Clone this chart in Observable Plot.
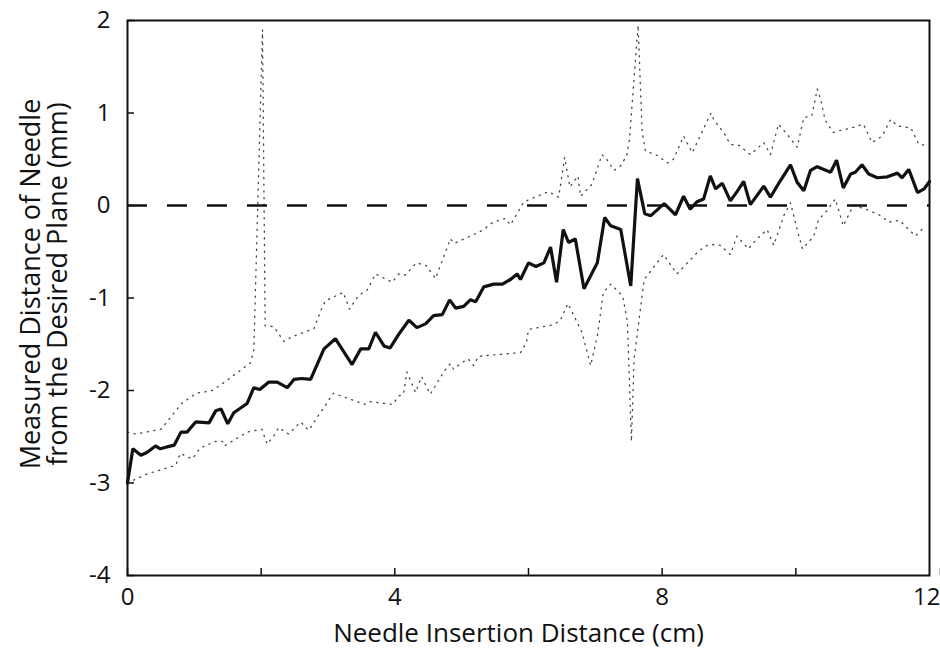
<!DOCTYPE html>
<html>
<head>
<meta charset="utf-8">
<script src="https://cdn.jsdelivr.net/npm/d3@7"></script>
<script src="https://cdn.jsdelivr.net/npm/@observablehq/plot@0.6"></script>
<style>
  html, body { margin: 0; padding: 0; background: #fff; }
  #chart { width: 940px; height: 651px; }
  svg { font-family: "Open Sans", "Noto Sans", sans-serif; }
</style>
</head>
<body>
<div id="chart"></div>
<script>
// Mean needle deviation (thick solid line)
const meanX = [0, 0.08, 0.2, 0.29, 0.42, 0.49, 0.59, 0.7, 0.8, 0.89,
  1.02, 1.22, 1.32, 1.4, 1.5, 1.59, 1.79, 1.89, 1.98, 2.11,
  2.24, 2.39, 2.49, 2.61, 2.74, 2.94, 3.11, 3.36, 3.49, 3.61,
  3.71, 3.84, 3.93, 4.06, 4.21, 4.33, 4.46, 4.58, 4.71, 4.82,
  4.91, 5.03, 5.13, 5.21, 5.33, 5.48, 5.61, 5.73, 5.83, 5.88,
  6.0, 6.11, 6.23, 6.33, 6.42, 6.52, 6.6, 6.7, 6.83, 7.03,
  7.14, 7.23, 7.38, 7.53, 7.63, 7.74, 7.83, 8.03, 8.2, 8.32,
  8.42, 8.52, 8.62, 8.72, 8.8, 8.9, 9.02, 9.12, 9.22, 9.32,
  9.52, 9.62, 9.77, 9.92, 10.02, 10.12, 10.22, 10.32, 10.52, 10.61,
  10.71, 10.82, 10.89, 10.99, 11.09, 11.22, 11.37, 11.52, 11.59, 11.69,
  11.82, 11.92, 12.0];
const meanY = [-3.0, -2.63, -2.70, -2.67, -2.60, -2.63, -2.61, -2.59, -2.45, -2.45,
  -2.34, -2.35, -2.22, -2.20, -2.36, -2.24, -2.14, -1.97, -1.99, -1.91,
  -1.91, -1.97, -1.88, -1.87, -1.88, -1.55, -1.44, -1.72, -1.55, -1.55,
  -1.37, -1.52, -1.54, -1.39, -1.24, -1.32, -1.28, -1.19, -1.18, -1.02,
  -1.11, -1.09, -1.02, -1.04, -0.88, -0.85, -0.85, -0.80, -0.74, -0.80,
  -0.62, -0.66, -0.62, -0.45, -0.83, -0.26, -0.40, -0.36, -0.90, -0.62,
  -0.13, -0.22, -0.26, -0.87, 0.29, -0.09, -0.11, 0.02, -0.10, 0.10,
  -0.04, 0.04, 0.07, 0.32, 0.18, 0.24, 0.05, 0.15, 0.26, 0.01,
  0.21, 0.09, 0.27, 0.44, 0.25, 0.16, 0.38, 0.42, 0.36, 0.49,
  0.19, 0.34, 0.36, 0.44, 0.34, 0.30, 0.31, 0.35, 0.30, 0.39,
  0.14, 0.18, 0.26];

// Upper bound (dotted)
const upperX = [0, 0.12, 0.5, 0.81, 1.03, 1.27, 1.47, 1.84, 1.89, 2.02,
  2.06, 2.19, 2.34, 2.46, 2.79, 2.89, 2.96, 3.23, 3.32, 3.45,
  3.59, 3.71, 3.96, 4.06, 4.16, 4.32, 4.47, 4.61, 4.83, 4.89,
  5.31, 5.47, 5.66, 5.73, 5.93, 6.3, 6.45, 6.49, 6.54, 6.62,
  6.74, 6.78, 6.95, 7.1, 7.17, 7.28, 7.38, 7.47, 7.51, 7.64,
  7.7, 7.75, 7.93, 8.08, 8.17, 8.32, 8.45, 8.73, 8.77, 8.92,
  9.02, 9.15, 9.32, 9.52, 9.62, 9.74, 9.87, 10.02, 10.12, 10.24,
  10.32, 10.37, 10.44, 10.56, 10.71, 10.84, 11.01, 11.14, 11.29, 11.42,
  11.52, 11.72, 11.84, 11.97];
const upperY = [-2.45, -2.47, -2.42, -2.14, -2.03, -2.0, -1.9, -1.7, -1.57, 1.9,
  -1.3, -1.31, -1.47, -1.42, -1.33, -1.14, -1.03, -0.94, -1.12, -0.98,
  -0.91, -0.74, -0.83, -0.74, -0.75, -0.62, -0.65, -0.79, -0.36, -0.41,
  -0.27, -0.18, -0.14, -0.21, 0.04, 0.15, 0.09, 0.27, 0.52, 0.2,
  0.32, 0.1, 0.23, 0.55, 0.5, 0.38, 0.43, 0.54, 0.71, 1.95,
  0.8, 0.59, 0.54, 0.46, 0.5, 0.75, 0.57, 1.0, 0.93, 0.79,
  0.66, 0.65, 0.55, 0.68, 0.55, 0.88, 0.77, 0.63, 0.95, 0.97,
  1.26, 1.15, 0.92, 0.79, 0.82, 0.84, 0.88, 0.68, 0.75, 0.93,
  0.86, 0.84, 0.66, 0.65];

// Lower bound (dotted)
const lowerX = [0, 0.3, 0.72, 0.79, 0.97, 1.09, 1.32, 1.42, 1.45, 1.79,
  2.01, 2.09, 2.19, 2.26, 2.41, 2.59, 2.71, 3.08, 3.55, 3.62,
  3.97, 4.06, 4.13, 4.18, 4.31, 4.4, 4.53, 4.73, 4.83, 4.88,
  5.0, 5.1, 5.18, 5.25, 5.88, 5.97, 6.0, 6.36, 6.47, 6.59,
  6.8, 6.93, 7.03, 7.12, 7.23, 7.41, 7.48, 7.54, 7.58, 7.73,
  8.02, 8.22, 8.55, 8.7, 8.87, 9.02, 9.12, 9.29, 9.42, 9.57,
  9.67, 9.82, 9.92, 10.02, 10.1, 10.27, 10.34, 10.44, 10.59, 10.71,
  10.86, 11.05, 11.27, 11.39, 11.55, 11.79, 11.94];
const lowerY = [-3.0, -2.9, -2.81, -2.68, -2.74, -2.62, -2.55, -2.55, -2.6, -2.45,
  -2.42, -2.58, -2.49, -2.4, -2.47, -2.34, -2.43, -2.03, -2.15, -2.12,
  -2.15, -2.06, -2.04, -1.8, -2.02, -1.85, -2.04, -1.8, -1.71, -1.77,
  -1.7, -1.66, -1.73, -1.63, -1.59, -1.48, -1.34, -1.29, -1.25, -1.06,
  -1.37, -1.73, -1.41, -0.94, -0.85, -0.98, -1.26, -2.55, -1.66, -0.8,
  -0.53, -0.74, -0.49, -0.42, -0.43, -0.53, -0.33, -0.47, -0.36, -0.26,
  -0.43, -0.11, 0.03, -0.26, -0.47, -0.33, -0.15, -0.08, 0.07, -0.22,
  0.0, -0.04, -0.11, -0.18, -0.16, -0.33, -0.22];

const xTicks = [0, 2, 4, 6, 8, 10, 12];
const xTickLabels = ["0", "", "4", "", "8", "", "12"];
const yTicks = [2, 1, 0, -1, -2, -3, -4];
const xLabel = "Needle Insertion Distance (cm)";
const yLabel = "Measured Distance of Needle\nfrom the Desired Plane (mm)";
const referenceLevel = [0];

const toRows = (xs, ys) => xs.map((x, i) => ({x, y: ys[i]}));
const mean = toRows(meanX, meanY);
const upper = toRows(upperX, upperY);
const lower = toRows(lowerX, lowerY);
const lastTick = xTicks[xTicks.length - 1];
const innerTicks = xTicks.filter(d => d !== lastTick);
const labelOf = d => xTickLabels[xTicks.indexOf(d)];

const chart = Plot.plot({
  width: 940,
  height: 651,
  marginLeft: 127,
  marginRight: 11,
  marginTop: 20,
  marginBottom: 76,
  style: {fontFamily: '"Open Sans", "Noto Sans", sans-serif', color: "#111", background: "#fff"},
  x: {domain: [0, 12]},
  y: {domain: [-4, 2]},
  marks: [
    Plot.line(upper, {x: "x", y: "y", stroke: "#444", strokeWidth: 1.3, strokeDasharray: "1.2,5.5"}),
    Plot.line(lower, {x: "x", y: "y", stroke: "#444", strokeWidth: 1.3, strokeDasharray: "1.2,5.5"}),
    Plot.ruleY(referenceLevel, {stroke: "#111", strokeWidth: 2.5, strokeDasharray: "20,20"}),
    Plot.line(mean, {x: "x", y: "y", stroke: "#111", strokeWidth: 3.2, strokeLinejoin: "miter"}),
    Plot.frame({stroke: "#111", strokeWidth: 2}),
    Plot.axisY(yTicks, {tickSize: -7, tickPadding: 24, fontSize: 24, strokeWidth: 1.5, label: null, tickFormat: d => String(d)}),
    Plot.axisX(innerTicks, {tickSize: -7, tickPadding: 19, fontSize: 24, strokeWidth: 1.5, label: null, tickFormat: labelOf}),
    Plot.axisX([lastTick], {tickSize: -7, tickPadding: 19, fontSize: 24, strokeWidth: 1.5, label: null, tickFormat: labelOf, textAnchor: "end", dx: 11}),
    Plot.text([xLabel], {frameAnchor: "bottom", dx: -10, dy: 58, fontSize: 26, lineAnchor: "middle", fill: "#111"}),
    Plot.text([yLabel], {frameAnchor: "left", rotate: -90, dx: -83, dy: -14, fontSize: 27,
      lineHeight: 1.0, textAnchor: "middle", lineAnchor: "middle", fill: "#111"})
  ]
});
document.getElementById("chart").appendChild(chart);
</script>
</body>
</html>
